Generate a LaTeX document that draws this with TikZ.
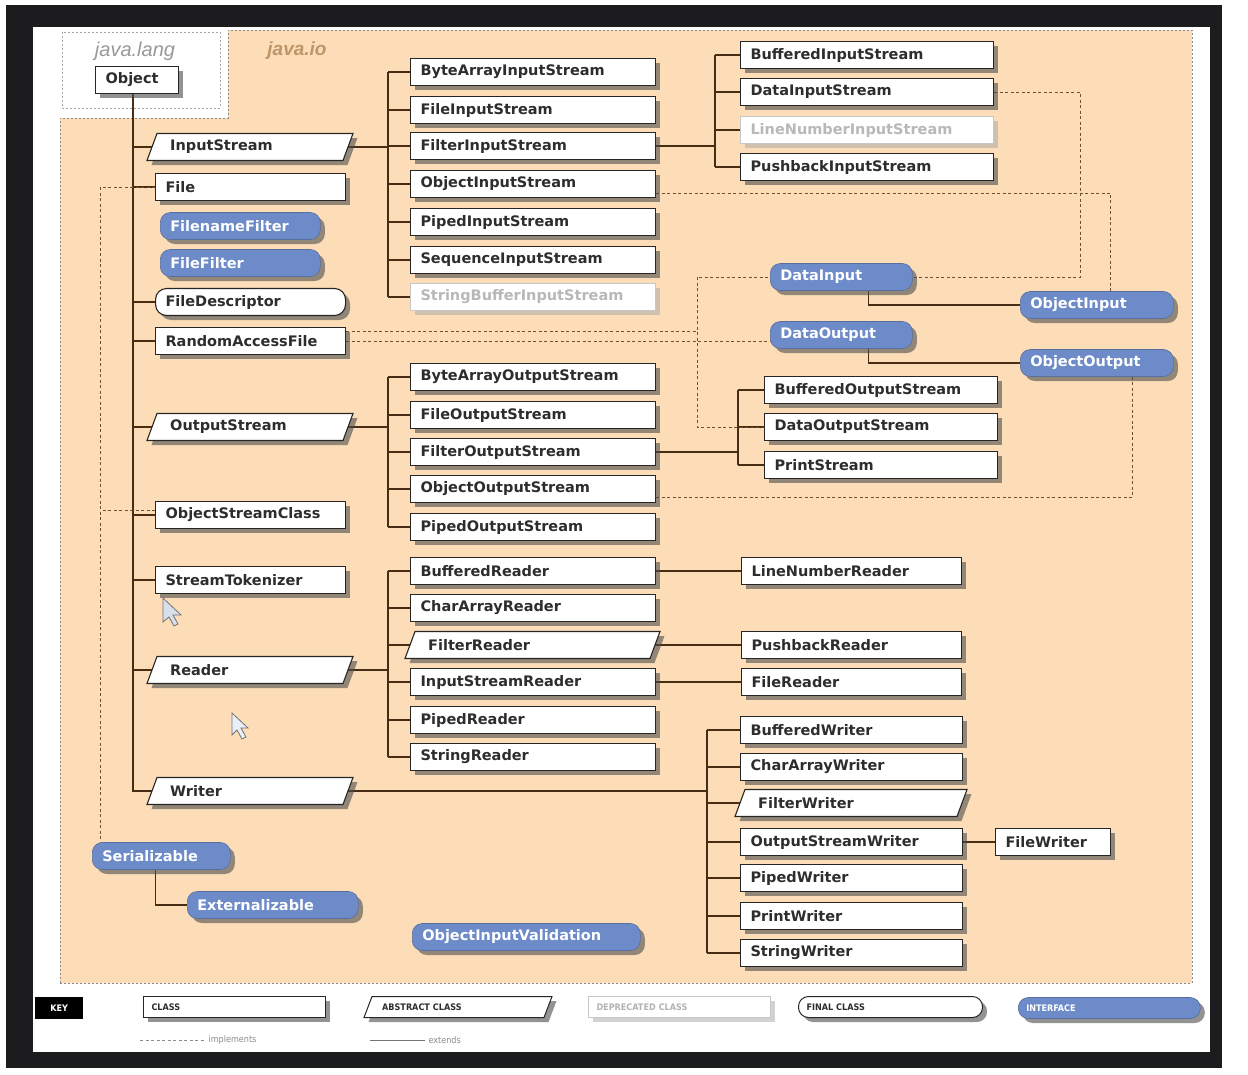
\documentclass[tikz,border=0pt]{standalone}
\usepackage{fontspec}
\setmainfont{DejaVu Sans}
\newfontfamily\condfont{DejaVu Sans Condensed}
\newfontfamily\itfont{Liberation Sans}
\usetikzlibrary{shadows,calc}
\definecolor{peach}{RGB}{252,221,184}
\definecolor{ifblue}{RGB}{108,139,200}
\definecolor{linec}{RGB}{70,45,20}
\definecolor{dashc}{RGB}{110,80,50}
\definecolor{txtc}{RGB}{45,45,45}
\definecolor{framec}{RGB}{28,28,30}
\pgfdeclarelayer{back}\pgfdeclarelayer{conn}
\pgfsetlayers{back,conn,main}
\newcommand\bfnt{\fontsize{14.5}{16}\selectfont\bfseries}
\newcommand\lgfnt{\condfont\fontsize{9}{10}\selectfont\bfseries}
% abstract class: name, left x, center y, width, text
\newcommand\absbox[5]{%
  \pgfmathsetmacro\abt{#4-36}%
  \path[absl] (#2-5,#3+13.5) -- (#2+5,#3-13.5) -- (#2+#4+5,#3-13.5) -- (#2+#4-5,#3+13.5) -- cycle;%
  \node[cbox,inner xsep=18pt,text width=\abt pt] (#1) at (#2,#3) {#5};}
\begin{document}
\begin{tikzpicture}[x=1pt,y=-1pt,
 shd/.style={drop shadow={shadow xshift=4.5pt,shadow yshift=-4.5pt,fill=black!70,opacity=.6}},
 lshd/.style={drop shadow={shadow xshift=4pt,shadow yshift=-4pt,fill=black!35,opacity=.5}},
 cbox/.style={anchor=west,inner xsep=10pt,inner ysep=0pt,minimum height=27pt,align=left,font=\bfnt,text=txtc},
 cls/.style={cbox,draw=black!85,line width=1.1pt,fill=white,text width=#1,shd},
 dep/.style={cbox,draw=black!22,line width=1pt,fill=white,text=black!28,text width=#1,lshd},
 fin/.style={cls=#1,rounded corners=11pt},
 intf/.style={cbox,draw=ifblue!80!black,line width=.6pt,fill=ifblue,text=white,rounded corners=10pt,text width=#1,shd},
 absl/.style={draw=black!85,line width=1.1pt,fill=white,shd},
 extl/.style={draw=linec,line width=1.4pt},
 impl/.style={draw=dashc,line width=.8pt,dash pattern=on 3pt off 2.5pt},
 lbox/.style={anchor=west,inner xsep=8pt,inner ysep=0pt,minimum height=21pt,align=left,font=\lgfnt,text=txtc},
]
\useasboundingbox (0,0) rectangle (1248,1074);
\begin{pgfonlayer}{back}
\fill[white] (0,0) rectangle (1248,1074);
\fill[framec] (6,5) rectangle (1222,1068);
\fill[white] (33,27) rectangle (1210,1052);
\path[fill=peach,draw=black!45,line width=.6pt,dash pattern=on 2pt off 2pt]
  (60,983) -- (60,118) -- (228,118) -- (228,30) -- (1192,30) -- (1192,983) -- cycle;
\path[fill=white,draw=black!35,line width=.6pt,dash pattern=on 2pt off 2pt] (62,32) rectangle (220,108);
\end{pgfonlayer}

% package labels
\node[font=\itfont\itshape\fontsize{20}{21}\selectfont,text=black!40] (jlang) at (135,51) {java.lang};
\node[font=\itfont\itshape\bfseries\fontsize{19}{20}\selectfont,text=black!25!peach!55!brown] (jio) at (297,51) {java.io};

% left column
\node[cls=63pt] (obj) at (95,80) {Object};
\absbox{ins}{152}{147}{196}{InputStream}
\node[cls=170pt] (file) at (155,187) {File};
\node[intf=140pt] (fnf) at (160,226) {FilenameFilter};
\node[intf=140pt] (ff) at (160,263) {FileFilter};
\node[fin=170pt] (fd) at (155,302) {FileDescriptor};
\node[cls=170pt] (raf) at (155,341) {RandomAccessFile};
\absbox{os}{152}{427}{196}{OutputStream}
\node[cls=170pt] (osc) at (155,515) {ObjectStreamClass};
\node[cls=170pt] (stt) at (155,580) {StreamTokenizer};
\absbox{rdr}{152}{670}{196}{Reader}
\absbox{wri}{152}{791}{196}{Writer}
\node[intf=118pt] (ser) at (92,856) {Serializable};
\node[intf=151pt] (extz) at (187,905) {Externalizable};
\node[intf=208pt] (oiv) at (412,937) {ObjectInputValidation};

% middle column
\node[cls=225pt] (bais) at (410,72) {ByteArrayInputStream};
\node[cls=225pt] (fis) at (410,110) {FileInputStream};
\node[cls=225pt] (filis) at (410,146) {FilterInputStream};
\node[cls=225pt] (ois) at (410,184) {ObjectInputStream};
\node[cls=225pt] (pis) at (410,222) {PipedInputStream};
\node[cls=225pt] (seqis) at (410,260) {SequenceInputStream};
\node[dep=225pt] (sbis) at (410,297) {StringBufferInputStream};
\node[cls=225pt] (baos) at (410,377) {ByteArrayOutputStream};
\node[cls=225pt] (fos) at (410,415) {FileOutputStream};
\node[cls=225pt] (filos) at (410,452) {FilterOutputStream};
\node[cls=225pt] (oos) at (410,489) {ObjectOutputStream};
\node[cls=225pt] (pos) at (410,527) {PipedOutputStream};
\node[cls=225pt] (br) at (410,571) {BufferedReader};
\node[cls=225pt] (car) at (410,608) {CharArrayReader};
\absbox{fr}{410}{645}{245}{FilterReader}
\node[cls=225pt] (isr) at (410,682) {InputStreamReader};
\node[cls=225pt] (pr) at (410,720) {PipedReader};
\node[cls=225pt] (sr) at (410,757) {StringReader};

% right columns
\node[cls=233pt] (bis) at (740,55) {BufferedInputStream};
\node[cls=233pt] (dis) at (740,92) {DataInputStream};
\node[dep=233pt] (lnis) at (740,130) {LineNumberInputStream};
\node[cls=233pt] (pbis) at (740,167) {PushbackInputStream};
\node[intf=122pt] (din) at (770,277) {DataInput};
\node[intf=133pt] (oin) at (1020,305) {ObjectInput};
\node[intf=122pt] (dout) at (770,335) {DataOutput};
\node[intf=133pt] (oout) at (1020,363) {ObjectOutput};
\node[cls=213pt] (bos) at (764,390) {BufferedOutputStream};
\node[cls=213pt] (dos) at (764,427) {DataOutputStream};
\node[cls=213pt] (ps) at (764,465) {PrintStream};
\node[cls=200pt] (lnr) at (741,571) {LineNumberReader};
\node[cls=200pt] (pbr) at (741,645) {PushbackReader};
\node[cls=200pt] (frd) at (741,682) {FileReader};
\node[cls=202pt] (bw) at (740,730) {BufferedWriter};
\node[cls=202pt] (caw) at (740,767) {CharArrayWriter};
\absbox{fw}{740}{803}{222}{FilterWriter}
\node[cls=202pt] (osw) at (740,842) {OutputStreamWriter};
\node[cls=202pt] (pw) at (740,878) {PipedWriter};
\node[cls=202pt] (prw) at (740,916) {PrintWriter};
\node[cls=202pt] (sw) at (740,953) {StringWriter};
\node[cls=95pt] (fwr) at (995,842) {FileWriter};

% cursors
\path[fill=black!10!ifblue!25,draw=black!55,line width=.8pt]
  (163,598) -- ++(0,24) -- ++(6,-5) -- ++(5,9) -- ++(4,-2) -- ++(-5,-9) -- ++(8,0) -- cycle;
\path[fill=white!85!ifblue,draw=black!55,line width=.8pt]
  (232,713) -- ++(0,22) -- ++(5,-5) -- ++(5,9) -- ++(4,-2) -- ++(-5,-9) -- ++(7,0) -- cycle;

% bus coordinates
\coordinate (ibus) at (388,0);
\coordinate (fbus) at (715,0);
\coordinate (obus) at (388,0);
\coordinate (fobus) at (738,0);
\coordinate (rbus) at (388,0);
\coordinate (wbus) at (707,0);
\coordinate (djx) at (697,0);
\coordinate (objbus) at (133,0);

\begin{pgfonlayer}{conn}
% extends
\draw[extl] (obj.south -| objbus) |- (wri.west);
\foreach \n in {ins,file,fd,raf,os,osc,stt,rdr} \draw[extl] (\n.west) -- (\n.west -| objbus);
\draw[extl] (ins.east) -- (ins.east -| ibus);
\draw[extl] (bais.west -| ibus) -- (sbis.west -| ibus);
\foreach \n in {bais,fis,filis,ois,pis,seqis,sbis} \draw[extl] (\n.west) -- (\n.west -| ibus);
\draw[extl] (filis.east) -- (filis.east -| fbus);
\draw[extl] (bis.west -| fbus) -- (pbis.west -| fbus);
\foreach \n in {bis,dis,lnis,pbis} \draw[extl] (\n.west) -- (\n.west -| fbus);
\draw[extl] (os.east) -- (os.east -| obus);
\draw[extl] (baos.west -| obus) -- (pos.west -| obus);
\foreach \n in {baos,fos,filos,oos,pos} \draw[extl] (\n.west) -- (\n.west -| obus);
\draw[extl] (filos.east) -- (filos.east -| fobus);
\draw[extl] (bos.west -| fobus) -- (ps.west -| fobus);
\foreach \n in {bos,dos,ps} \draw[extl] (\n.west) -- (\n.west -| fobus);
\draw[extl] (rdr.east) -- (rdr.east -| rbus);
\draw[extl] (br.west -| rbus) -- (sr.west -| rbus);
\foreach \n in {br,car,fr,isr,pr,sr} \draw[extl] (\n.west) -- (\n.west -| rbus);
\draw[extl] (wri.east) -- (wri.east -| wbus);
\draw[extl] (bw.west -| wbus) -- (sw.west -| wbus);
\foreach \n in {bw,caw,fw,osw,pw,prw,sw} \draw[extl] (\n.west) -- (\n.west -| wbus);
\draw[extl] (br.east) -- (lnr.west);
\draw[extl] (fr.east) -- (pbr.west);
\draw[extl] (isr.east) -- (frd.west);
\draw[extl] (osw.east) -- (fwr.west);
\draw[extl] ([xshift=27pt]din.south) |- (oin.west);
\draw[extl] ([xshift=27pt]dout.south) |- (oout.west);
\draw[extl] ([xshift=-6pt]ser.south) |- (extz.west);
% implements
\draw[impl] (dis.east) -- ++(86,0) |- (din.east);
\draw[impl] ($(ois.east)+(0,9)$) -| ([xshift=14pt]oin.north);
\draw[impl] ($(raf.east)+(0,-10)$) -| (djx |- din.west) -- (din.west);
\draw[impl] (djx |- din.west) |- (dos.west);
\draw[impl] (raf.east) -- (raf.east -| dout.west);
\draw[impl] ($(oos.east)+(0,8)$) -| ([xshift=36pt]oout.south);
\draw[impl] (file.west) -| ([xshift=-61pt]ser.north);
\draw[impl] ($(osc.west)+(0,-5)$) -- ($(osc.west)+(-55,-5)$);
\end{pgfonlayer}

% legend
\node[fill=black,text=white,font=\lgfnt,minimum width=48pt,minimum height=22pt,anchor=west] (key) at (35,1008) {KEY};
\node[lbox,draw=black!85,line width=1pt,fill=white,shd,text width=166pt] (lcls) at (143,1007) {CLASS};
\path[absl,line width=1pt] (364,1017.5) -- (372,996.5) -- (552,996.5) -- (544,1017.5) -- cycle;
\node[lbox,inner xsep=14pt,text width=152pt] (labs) at (368,1007) {ABSTRACT CLASS};
\node[lbox,draw=black!22,line width=1pt,fill=white,lshd,text=black!30,text width=166pt] (ldep) at (588,1007) {DEPRECATED CLASS};
\node[lbox,draw=black!85,line width=1pt,fill=white,shd,rounded corners=10pt,text width=168pt] (lfin) at (798,1007) {FINAL CLASS};
\node[lbox,draw=ifblue!80!black,line width=.6pt,fill=ifblue,text=white,shd,rounded corners=10pt,text width=166pt] (lint) at (1018,1008) {INTERFACE};
\coordinate (li0) at (140,1040);
\node[anchor=west,font=\condfont\fontsize{9}{10}\selectfont,text=black!45] (limpl) at (205,1040) {implements};
\draw[impl,draw=black!45] (li0) -- (limpl.west);
\coordinate (le0) at (370,1040);
\node[anchor=west,font=\condfont\fontsize{9}{10}\selectfont,text=black!45] (lext) at (425,1040) {extends};
\draw[draw=black!55,line width=1pt] (le0) -- (lext.west);
\end{tikzpicture}
\end{document}
